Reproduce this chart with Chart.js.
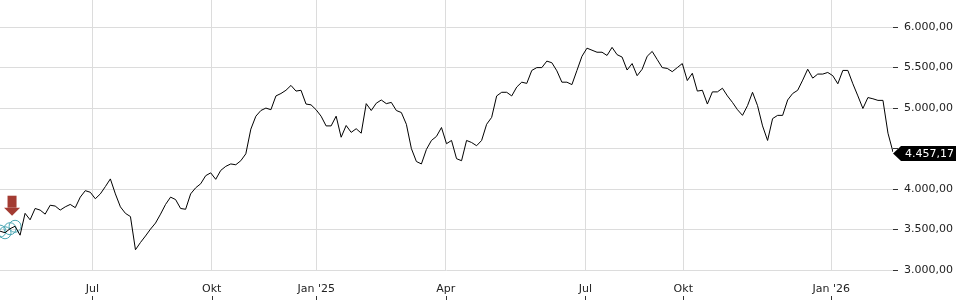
<!DOCTYPE html>
<html lang="de">
<head>
  <meta charset="UTF-8">
  <title>Kursverlauf</title>
  <script src="https://cdn.jsdelivr.net/npm/chart.js"></script>
  <style>
    body { margin: 0; background: #fff; }
    #wrap { width: 960px; height: 300px; }
  </style>
</head>
<body>
  <div id="wrap">
    <canvas id="chartKurs" width="960" height="300"></canvas>
  </div>

<script>
  // Schlusskurse, ein Wert je Abschnitt
  const kurse = [
    3480, 3460, 3510, 3540, 3430, 3700, 3620, 3760, 3740, 3690,
    3800, 3790, 3740, 3780, 3810, 3770, 3900, 3980, 3960, 3880,
    3940, 4030, 4125, 3940, 3780, 3700, 3660, 3250, 3340, 3420,
    3505, 3580, 3690, 3810, 3900, 3870, 3760, 3750, 3940, 4015,
    4065, 4165, 4200, 4120, 4230, 4280, 4310, 4300, 4350, 4435,
    4740, 4900, 4970, 5000, 4980, 5150, 5180, 5220, 5280, 5210,
    5220, 5050, 5040, 4980, 4900, 4780, 4780, 4900, 4640, 4785,
    4700, 4745, 4690, 5055, 4970, 5060, 5100, 5055, 5070, 4970,
    4945, 4800, 4500, 4340, 4310, 4490, 4600, 4650, 4760, 4560,
    4600, 4375, 4350, 4600, 4575, 4535, 4600, 4800, 4885, 5150,
    5195, 5195, 5150, 5260, 5320, 5305, 5465, 5500, 5500, 5580,
    5560, 5460, 5320, 5320, 5290, 5465, 5640, 5740, 5715, 5690,
    5690, 5650, 5750, 5660, 5630, 5470, 5550, 5400, 5480, 5640,
    5700, 5600, 5500, 5490, 5450, 5500, 5550, 5340, 5430, 5210,
    5220, 5050, 5200, 5200, 5245, 5150, 5070, 4980, 4910, 5030,
    5195, 5030, 4780, 4600, 4870, 4910, 4910, 5100, 5180, 5220,
    5345, 5480, 5370, 5420, 5420, 5440, 5400, 5300, 5465, 5465,
    5300, 5150, 4995, 5130, 5115, 5095, 5095, 4690, 4457.17
  ];

  // Monatsbeschriftung (Position im Datenindex)
  const monatsLabels = ['Jul', 'Okt', "Jan '25", 'Apr', 'Jul', 'Okt', "Jan '26"];
  const monatsPos = [18.4, 42.2, 63.05, 88.84, 116.7, 136.2, 165.7];

  const yTicks = [3000, 3500, 4000, 4500, 5000, 5500, 6000];

  // Ereignismarker (Index in kurse)
  const ereignisse = [0, 1, 2, 3];
  const pfeilIndex = 2;

  const letzter = kurse[kurse.length - 1];

  function formatDe(v) {
    return v.toLocaleString('de-DE', { minimumFractionDigits: 2, maximumFractionDigits: 2 });
  }

  const extras = {
    id: 'extras',
    afterDraw(chart) {
      const ctx = chart.ctx;
      const x = chart.scales.x;
      const y = chart.scales.y;

      // kleine Striche unter den Monatsnamen
      ctx.save();
      ctx.fillStyle = '#333';
      monatsPos.forEach(p => {
        const px = Math.round(x.getPixelForValue(p));
        ctx.fillRect(px, 296, 1, 4);
      });

      // roter Pfeil über dem Ereignis
      const meta = chart.getDatasetMeta(0);
      const pt = meta.data[pfeilIndex];
      const cx = pt.x + 2;
      const tip = pt.y - 13;
      ctx.fillStyle = '#a33b32';
      ctx.fillRect(cx - 4.5, tip - 20, 9, 12);
      ctx.beginPath();
      ctx.moveTo(cx - 8, tip - 8);
      ctx.lineTo(cx + 8, tip - 8);
      ctx.lineTo(cx, tip);
      ctx.closePath();
      ctx.fill();

      // Kursfahne rechts
      const py = Math.round(y.getPixelForValue(letzter)) + 1.5;
      const left = chart.chartArea.right;
      ctx.fillStyle = '#000';
      ctx.beginPath();
      ctx.moveTo(left, py);
      ctx.lineTo(left + 8, py - 7.5);
      ctx.lineTo(left + 63, py - 7.5);
      ctx.lineTo(left + 63, py + 7.5);
      ctx.lineTo(left + 8, py + 7.5);
      ctx.closePath();
      ctx.fill();
      ctx.fillStyle = '#fff';
      ctx.font = '11px "DejaVu Sans"';
      ctx.textBaseline = 'middle';
      ctx.textAlign = 'left';
      ctx.fillText(formatDe(letzter), left + 12, py + 0.5);
      ctx.restore();
    }
  };

  Chart.defaults.font.family = '"DejaVu Sans", sans-serif';
  Chart.defaults.font.size = 11;
  Chart.defaults.color = '#222';

  const grafico = document.getElementById('chartKurs');

  new Chart(grafico, {
    type: 'line',
    data: {
      datasets: [{
        label: 'Kurs',
        data: kurse.map((v, i) => ({ x: i, y: v })),
        borderColor: '#000',
        borderWidth: 1,
        pointRadius: 0,
        tension: 0
      }, {
        label: 'Ereignisse',
        data: ereignisse.map(i => ({ x: i, y: kurse[i] })),
        showLine: false,
        pointStyle: 'circle',
        pointRadius: 6,
        pointBorderWidth: 1,
        pointBorderColor: '#4aa6b3',
        pointBackgroundColor: 'rgba(0,0,0,0)',
        clip: false
      }]
    },
    options: {
      responsive: false,
      animation: false,
      layout: { padding: 0, autoPadding: false },
      plugins: {
        legend: { display: false },
        tooltip: { enabled: false }
      },
      scales: {
        x: {
          type: 'linear',
          min: 0,
          max: kurse.length - 1,
          afterFit(scale) {
            scale.height = 30;
            scale.paddingLeft = 0;
            scale.paddingRight = 0;
          },
          afterBuildTicks(scale) {
            scale.ticks = monatsPos.map(v => ({ value: v }));
          },
          grid: { color: '#dcdcdc', drawTicks: false },
          border: { display: false },
          ticks: {
            padding: 13,
            maxRotation: 0,
            autoSkip: false,
            callback: (v, i) => monatsLabels[i]
          }
        },
        y: {
          position: 'right',
          min: 3000,
          max: 6335,
          afterFit(scale) {
            scale.width = 67;
            scale.paddingTop = 0;
            scale.paddingBottom = 0;
          },
          afterBuildTicks(scale) {
            scale.ticks = yTicks.map(v => ({ value: v }));
          },
          grid: { color: '#dcdcdc', tickColor: '#333', tickLength: 5 },
          border: { display: false },
          ticks: {
            padding: 6,
            // Beschriftung ausblenden, wenn sie unter der Kursfahne liegt
            callback: v => Math.abs(v - letzter) < 150 ? '' : formatDe(v)
          }
        }
      }
    },
    plugins: [extras]
  });
</script>
</body>
</html>
